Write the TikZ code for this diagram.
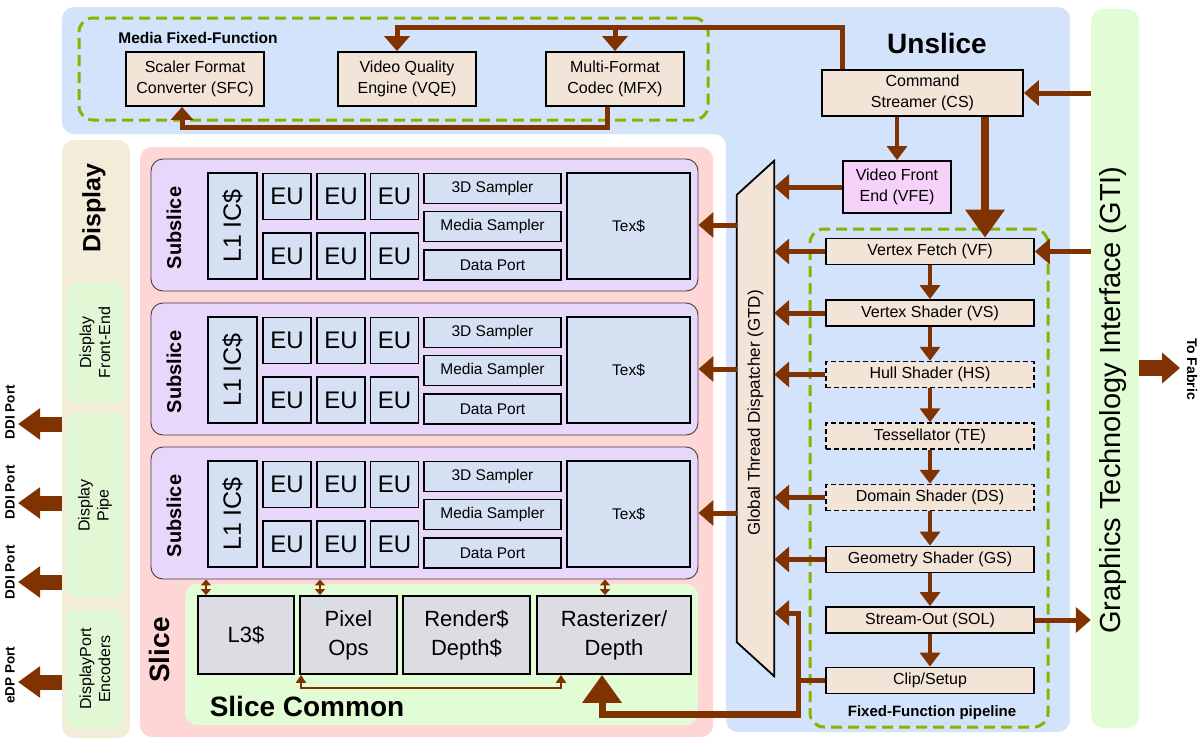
\documentclass[tikz,border=0pt]{standalone}
\usepackage{fontspec}
\setmainfont{Liberation Sans}
\usetikzlibrary{arrows.meta}
\definecolor{unsliceblue}{RGB}{212,227,252}
\definecolor{gtigreen}{RGB}{226,253,213}
\definecolor{dispbeige}{RGB}{243,236,217}
\definecolor{dispgreen}{RGB}{226,248,213}
\definecolor{slicepink}{RGB}{255,214,214}
\definecolor{sslav}{RGB}{231,215,250}
\definecolor{ssbox}{RGB}{213,224,243}
\definecolor{scgreen}{RGB}{226,252,213}
\definecolor{scgray}{RGB}{220,221,226}
\definecolor{ffbeige}{RGB}{243,228,216}
\definecolor{vfepink}{RGB}{246,210,251}
\definecolor{arrbrown}{RGB}{128,51,0}
\definecolor{dashgreen}{RGB}{138,178,0}
\newcommand\fsz[2]{\fontsize{#1}{#2}\selectfont}
\begin{document}
\begin{tikzpicture}[x=1pt,y=-1pt,
  region/.style={rounded corners=12pt, inner sep=0pt},
  box/.style={draw=black, line width=1.8pt, inner sep=0pt, align=center},
  ffb/.style={box, fill=ffbeige, font=\fsz{16}{19}, minimum width=208pt, minimum height=26pt},
  ffdash/.style={ffb, dash pattern=on 5pt off 3pt, line width=1.5pt},
  mfb/.style={box, fill=ffbeige, font=\fsz{16}{21}, minimum width=138pt, minimum height=54pt},
  ssb/.style={box, fill=ssbox},
  eub/.style={ssb, minimum width=48pt, minimum height=46pt, font=\fsz{24}{24}},
  smb/.style={ssb, minimum width=137pt, minimum height=30pt, font=\fsz{15.5}{18}},
  scb/.style={box, fill=scgray, minimum height=78pt, font=\fsz{22}{29}},
  dbox/.style={fill=dispgreen, rounded corners=10pt, inner sep=0pt, align=center, font=\fsz{16}{19}, minimum height=58pt},
  gdash/.style={draw=dashgreen, line width=3pt, dash pattern=on 11pt off 6pt, rounded corners=14pt, inner sep=0pt},
  lbl/.style={font=\bfseries\fsz{#1}{#1}},
  arr/.style={draw=arrbrown, line width=5pt, -{Triangle[width=25pt,length=15pt]}},
  smallarr/.style={draw=arrbrown, line width=4.5pt, -{Triangle[width=20pt,length=14pt]}},
  bigarr/.style={draw=arrbrown, line width=8pt, -{Triangle[width=38pt,length=28pt]}},
  portarr/.style={draw=arrbrown, line width=15pt, -{Triangle[width=30pt,length=22pt]}},
  dblarr/.style={draw=arrbrown, line width=2.5pt, {Triangle[width=10pt,length=6pt]}-{Triangle[width=10pt,length=6pt]}},
]
\useasboundingbox (0,0) rectangle (1200,739);

% ---------------- regions
\fill[unsliceblue, rounded corners=12pt] (62,7) -- (1070,7) -- (1070,732) -- (726,732) -- (726,134) -- (62,134) -- cycle;
\node[region, fill=gtigreen, minimum width=48pt, minimum height=719pt] (gti) at (1115,368.5) {};
\node[region, fill=dispbeige, minimum width=68pt, minimum height=598pt] (display) at (96,439) {};
\node[region, fill=slicepink, minimum width=573pt, minimum height=590pt] (slice) at (426.5,442) {};

% ---------------- titles
\node[lbl=28] (unslice) at (937,43) {Unslice};
\node[rotate=90, font=\fsz{29}{33}] (gtitext) at (1113,400) {Graphics Technology Interface (GTI)};
\node[rotate=90, lbl=25] (displaytext) at (94,208) {Display};
\node[rotate=90, lbl=28] (slicetext) at (159,650) {Slice};

% ---------------- media fixed function
\node[gdash, minimum width=629pt, minimum height=102pt] (mff) at (393.5,69) {};
\node[lbl=15.5] (mfftext) at (198,38) {Media Fixed-Function};
\node[mfb] (sfc) at (195,79) {Scaler Format\\Converter (SFC)};
\node[mfb] (vqe) at (407,79) {Video Quality\\Engine (VQE)};
\node[mfb] (mfx) at (615,79) {Multi-Format\\Codec (MFX)};

% ---------------- unslice front
\node[box, fill=ffbeige, font=\fsz{16}{21}, minimum width=201pt, minimum height=46pt] (cs) at (922.5,93) {Command\\Streamer (CS)};
\node[box, fill=vfepink, font=\fsz{16}{21}, minimum width=108pt, minimum height=52pt] (vfe) at (897,187) {Video Front\\End (VFE)};

% ---------------- GTD
\node[minimum width=37pt, minimum height=515pt, inner sep=0pt] (gtd) at (755.5,418.5) {};
\draw[fill=ffbeige, line width=1.8pt] ([yshift=-34pt]gtd.north west) -- (gtd.north east) -- (gtd.south east) -- ([yshift=34pt]gtd.south west) -- cycle;
\node[rotate=90, font=\fsz{17}{20}] (gtdtext) at (755.5,413) {Global Thread Dispatcher (GTD)};

% ---------------- fixed function pipeline
\node[gdash, minimum width=238pt, minimum height=498pt] (ffp) at (929,478) {};
\node[lbl=15] (ffptext) at (932,713) {Fixed-Function pipeline};
\node[ffb] (vf) at (930,251.5) {Vertex Fetch (VF)};
\node[ffb] (vs) at (930,313) {Vertex Shader (VS)};
\node[ffdash] (hs) at (930,374.5) {Hull Shader (HS)};
\node[ffdash] (te) at (930,436) {Tessellator (TE)};
\node[ffdash] (ds) at (930,497.5) {Domain Shader (DS)};
\node[ffb] (gs) at (930,559.5) {Geometry Shader (GS)};
\node[ffb] (sol) at (930,620) {Stream-Out (SOL)};
\node[ffb] (clip) at (930,680.5) {Clip/Setup};

% ---------------- display
\node[dbox, rotate=90, minimum width=119pt] (dfe) at (95,342.5) {Display\\Front-End};
\node[dbox, rotate=90, minimum width=185pt] (dpipe) at (95,505.5) {Display\\Pipe};
\node[dbox, rotate=90, minimum width=118pt] (dpenc) at (95,669) {DisplayPort\\Encoders};

% ---------------- subslices
\foreach \i/\dy in {1/0,2/144,3/288}{
  \node[region, fill=sslav, draw=black!75, line width=0.9pt, minimum width=547pt, minimum height=132pt] (ss\i) at (424.5,225+\dy) {};
  \node[rotate=90, lbl=20] (sstext\i) at (174,228+\dy) {Subslice};
  \node[ssb, rotate=90, minimum width=106pt, minimum height=49pt, font=\fsz{25}{25}] (lone\i) at (232.5,226+\dy) {L1 IC\$};
  \foreach \c/\x in {1/287,2/341,3/394.5}{
    \node[eub] (eua\i\c) at (\x,196.5+\dy) {EU};
    \node[eub] (eub\i\c) at (\x,256+\dy) {EU};
  }
  \node[smb] (samp\i) at (492.5,188.5+\dy) {3D Sampler};
  \node[smb] (msamp\i) at (492.5,226.5+\dy) {Media Sampler};
  \node[smb] (dport\i) at (492.5,265+\dy) {Data Port};
  \node[ssb, minimum width=123pt, minimum height=106pt, font=\fsz{15.5}{18}] (tex\i) at (628.5,226+\dy) {Tex\$};
}

% ---------------- slice common
\node[region, fill=scgreen, minimum width=513pt, minimum height=141pt] (sc) at (441.5,654.5) {};
\node[lbl=28] (sctext) at (307,706) {Slice Common};
\node[scb, minimum width=96pt] (lthree) at (246,635) {L3\$};
\node[scb, minimum width=97pt] (pix) at (348.5,635) {Pixel\\Ops};
\node[scb, minimum width=127pt] (rend) at (466.5,635) {Render\$\\Depth\$};
\node[scb, minimum width=154pt] (rast) at (614,635) {Rasterizer/\\Depth};

% ---------------- connectors: media
\draw[arr] ([xshift=21.5pt]cs.north west) -- ++(0,-42) -| ([xshift=-10pt]vqe.north);
\coordinate (mb) at (615,28);
\draw[arr] (mb) -- (mfx.north);
\draw[draw=arrbrown, line width=5pt, -{Triangle[width=22pt,length=13pt]}] ([xshift=-8pt]mfx.south) -- ++(0,21) -| ([xshift=-13pt]sfc.south);

% ---------------- connectors: unslice
\draw[arr] (gti.west |- cs.east) -- (cs.east);
\draw[smallarr] (vfe.north |- cs.south) -- (vfe.north);
\draw[bigarr] ([xshift=62.5pt]cs.south) -- ([xshift=55pt]vf.north);
\draw[arr] (vfe.west) -- (gtd.north east |- vfe.west);
\draw[arr] (gti.west |- vf.east) -- (vf.east);
\draw[arr] (sol.east) -- (gti.west |- sol.east);
\foreach \a in {vf,vs,hs,ds,gs}{
  \draw[arr] (\a.west) -- (gtd.east |- \a.west);
}
\draw[smallarr] (vf.south) -- (vs.north);
\draw[smallarr] (vs.south) -- (hs.north);
\draw[smallarr] (hs.south) -- (te.north);
\draw[smallarr] (te.south) -- (ds.north);
\draw[smallarr] (ds.south) -- (gs.north);
\draw[smallarr] (gs.south) -- (sol.north);
\draw[smallarr] (sol.south) -- (clip.north);
\coordinate (j) at (798,680.5);
\coordinate (k) at (798,714);
\draw[draw=arrbrown, line width=5pt] (clip.west) -- (j);
\draw[arr] (k) |- (gtd.east |- 0,613);
\draw[bigarr, line width=7pt] ([xshift=2.5pt]k) -| ([xshift=-12pt]rast.south);

% ---------------- connectors: slice
\foreach \i in {1,2,3}{
  \draw[arr] (gtd.west |- ss\i.east) -- (ss\i.east);
}
\draw[dblarr] (ss3.south -| 206,0) -- (lthree.north -| 206,0);
\draw[dblarr] (ss3.south -| 320,0) -- (pix.north -| 320,0);
\draw[dblarr] (ss3.south -| 605,0) -- (rast.north -| 605,0);
\draw[draw=arrbrown, line width=2.5pt, {Triangle[width=10pt,length=8pt]}-{Triangle[width=10pt,length=8pt]}] ([xshift=-47.5pt]pix.south) -- ++(0,13) -| ([xshift=-53pt]rast.south);

% ---------------- display ports
\coordinate (p1) at (18,424);
\coordinate (p2) at (18,503);
\coordinate (p3) at (18,582);
\coordinate (p4) at (18,682);
\draw[portarr] (display.west |- p1) -- (p1);
\draw[portarr] (display.west |- p2) -- (p2);
\draw[portarr] (display.west |- p3) -- (p3);
\draw[portarr] (display.west |- p4) -- (p4);
\node[rotate=90, lbl=13.5] (port1) at (10,412) {DDI Port};
\node[rotate=90, lbl=13.5] (port2) at (10,492) {DDI Port};
\node[rotate=90, lbl=13.5] (port3) at (10,572) {DDI Port};
\node[rotate=90, lbl=13.5] (port4) at (10,675) {eDP Port};

% ---------------- to fabric
\coordinate (fab) at (1180,368);
\draw[draw=arrbrown, line width=16pt, -{Triangle[width=30pt,length=18pt]}] (gti.east |- fab) -- (fab);
\node[rotate=-90, lbl=14] (fabtext) at (1192,369) {To Fabric};
\end{tikzpicture}
\end{document}
